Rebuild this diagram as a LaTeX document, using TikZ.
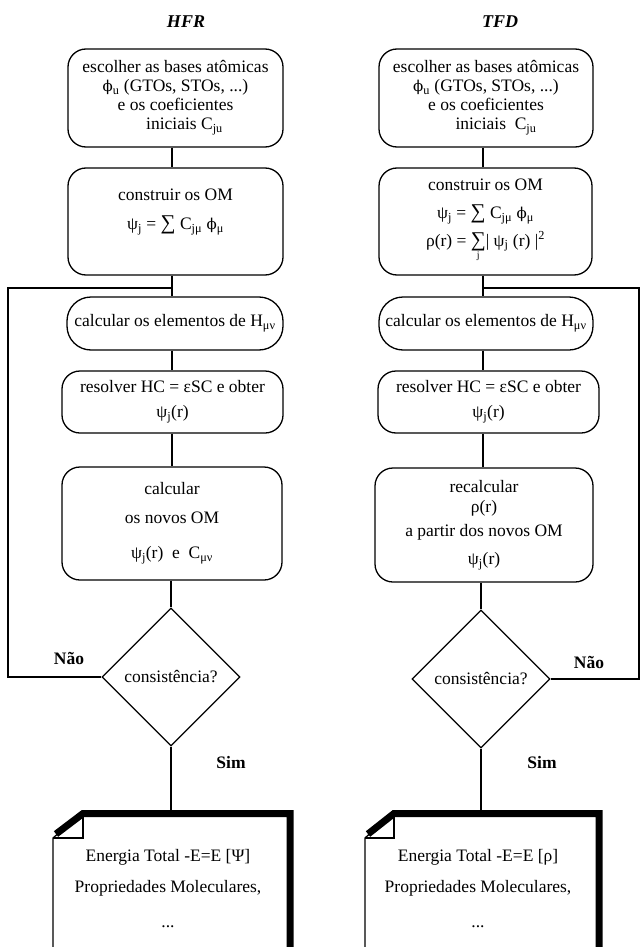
\documentclass[tikz,border=0pt]{standalone}
\usepackage{fontspec}
\setmainfont{Liberation Serif}
\newfontfamily\phifont{DejaVu Serif}
\usetikzlibrary{shapes.geometric}
\newcommand\phis{{\phifont\fontsize{15}{15}\selectfont ϕ}}
\newcommand\bigsum{{\fontsize{21}{21}\selectfont ∑}}
\newcommand\sumj{\begin{tabular}[t]{@{}c@{}}\bigsum\\[-7pt]{\fontsize{10}{10}\selectfont j}\end{tabular}}
\begin{document}
\begin{tikzpicture}[x=1pt,y=-1pt,
  font=\fontsize{17.5}{19}\selectfont,
  every node/.style={inner sep=0pt},
  box/.style={draw,line width=1.3pt,rounded corners=18pt,align=center,inner sep=0pt},
  dec/.style={draw,diamond,line width=1.3pt,minimum width=138pt,minimum height=138pt,inner sep=0pt,aspect=1},
  conn/.style={line width=1.3pt},
  thin/.style={line width=1.3pt},
  thickedge/.style={line width=7pt,line join=miter},
  lbl/.style={font=\fontsize{17.5}{19}\selectfont\bfseries},
  ttl/.style={font=\fontsize{18}{20}\selectfont\bfseries\itshape}
]
\useasboundingbox (0,0) rectangle (641,947);

% titles
\node[ttl] (hfrT) at (186,22) {HFR};
\node[ttl] (tfdT) at (500,22) {TFD};

% column coordinates
\coordinate (hx) at (172,0);
\coordinate (tx) at (483,0);

% HFR column
\node[box,minimum width=215pt,minimum height=98pt] (h1) at (175.5,98)
  {escolher as bases atômicas\\ \phis\textsubscript{u} (GTOs, STOs, ...)\\ e os coeficientes\\ \hspace*{18pt}iniciais C\textsubscript{ju}};
\node[box,minimum width=215pt,minimum height=107pt] (h2) at (175.5,221.5)
  {construir os OM\\[10pt] ψ\textsubscript{j} = \bigsum\ C\textsubscript{jμ} \phis\textsubscript{μ}\\[0pt]\strut};
\node[box,rounded corners=24pt,minimum width=216pt,minimum height=53pt] (h3) at (175,323.5)
  {calcular os elementos de H\textsubscript{μν}};
\node[box,minimum width=221pt,minimum height=62pt] (h4) at (172.5,402)
  {resolver HC = εSC e obter\\[6pt] ψ\textsubscript{j}(r)};
\node[box,minimum width=220pt,minimum height=113pt] (h5) at (172,523.5)
  {calcular\\[10pt] os novos OM\\[16pt] ψ\textsubscript{j}(r)\ \ e\ \ C\textsubscript{μν}};
\node[dec] (hd) at (171,677) {consistência?};

% TFD column
\node[box,minimum width=214pt,minimum height=98pt] (t1) at (486,98)
  {escolher as bases atômicas\\ \phis\textsubscript{u} (GTOs, STOs, ...)\\ e os coeficientes\\ \hspace*{20pt}iniciais\ \ C\textsubscript{ju}};
\node[box,minimum width=213pt,minimum height=107pt] (t2) at (485.5,221.5)
  {construir os OM\\[9pt] ψ\textsubscript{j} = \bigsum\ C\textsubscript{jμ} \phis\textsubscript{μ}\\[7pt] ρ(r) = \sumj| ψ\textsubscript{j} (r) |\textsuperscript{2}};
\node[box,rounded corners=24pt,minimum width=214pt,minimum height=53pt] (t3) at (486,323.5)
  {calcular os elementos de H\textsubscript{μν}};
\node[box,minimum width=221pt,minimum height=62pt] (t4) at (488.5,402)
  {resolver HC = εSC e obter\\[6pt] ψ\textsubscript{j}(r)};
\node[box,minimum width=218pt,minimum height=114pt] (t5) at (484,525)
  {recalcular\\[1pt] ρ(r)\\[5pt] a partir dos novos OM\\[9pt] ψ\textsubscript{j}(r)};
\node[dec] (td) at (481,679) {consistência?};

% connectors HFR
\draw[conn] (h1.south -| hx) -- (h2.north -| hx);
\draw[conn] (h2.south -| hx) -- (h3.north -| hx);
\draw[conn] (h3.south -| hx) -- (h4.north -| hx);
\draw[conn] (h4.south -| hx) -- (h5.north -| hx);
\draw[conn] (h5.south -| hd) -- (hd.north);
\coordinate (hdtop) at (170,812);
\draw[conn] (hd.south) -- (hd.south |- hdtop);
\coordinate (hl) at (8,288);
\draw[conn] (hd.west) -| (hl) -- (hl -| hx);

% connectors TFD
\draw[conn] (t1.south -| tx) -- (t2.north -| tx);
\draw[conn] (t2.south -| tx) -- (t3.north -| tx);
\draw[conn] (t3.south -| tx) -- (t4.north -| tx);
\draw[conn] (t4.south -| tx) -- (t5.north -| tx);
\draw[conn] (t5.south -| td) -- (td.north);
\coordinate (tdtop) at (479,812);
\draw[conn] (td.south) -- (td.south |- tdtop);
\coordinate (tr) at (639,288);
\draw[conn] (td.east) -| (tr) -- (tr -| tx);

% labels
\node[lbl] (hnao) at (69,658) {Não};
\node[lbl] (tnao) at (589,662) {Não};
\node[lbl] (hsim) at (231,763) {Sim};
\node[lbl] (tsim) at (542,763) {Sim};

% HFR document
\draw[thin] (53,950) -- (53,838) -- (83,812) -- (290,812);
\draw[thin] (83,812) -- (83,838) -- (53,838);
\draw[thickedge] (56,834) -- (83,813.5) -- (290,813.5) -- (290,950);
\node[align=center] (hdoc) at (168,889)
  {Energia Total -E=E [Ψ]\\[12pt] Propriedades Moleculares,\\[16pt] ...};

% TFD document
\draw[thin] (365,950) -- (365,838) -- (394,812) -- (599,812);
\draw[thin] (394,812) -- (394,838) -- (365,838);
\draw[thickedge] (368,834) -- (394,813.5) -- (599,813.5) -- (599,950);
\node[align=center] (tdoc) at (478,889)
  {Energia Total -E=E [ρ]\\[12pt] Propriedades Moleculares,\\[16pt] ...};
\end{tikzpicture}
\end{document}
